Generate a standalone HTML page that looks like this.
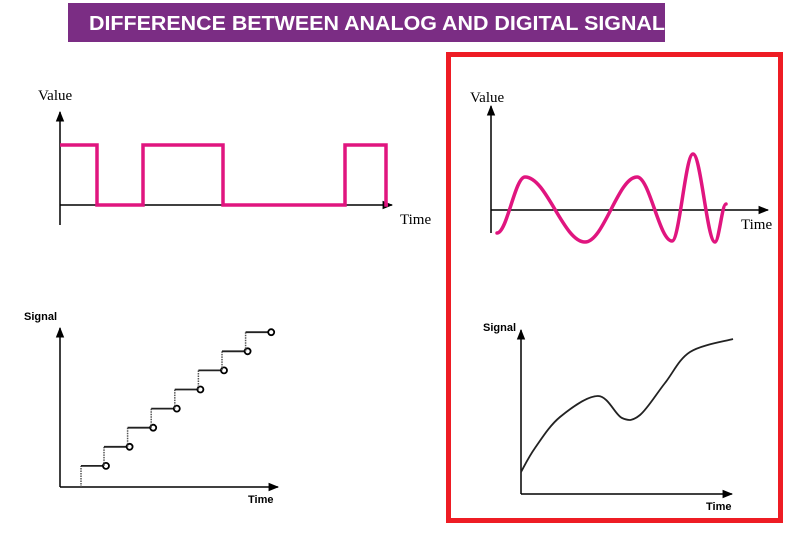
<!DOCTYPE html>
<html><head><meta charset="utf-8"><style>
html,body{margin:0;padding:0;background:#fff;width:800px;height:549px;overflow:hidden}
svg{display:block}
.serif{font-family:"Liberation Serif",serif}
.sans{font-family:"Liberation Sans",sans-serif;font-weight:bold}
</style></head><body>
<svg id="c" width="800" height="549" viewBox="0 0 800 549">
<defs><marker id="ar" viewBox="0 0 10 10" refX="9" refY="5" markerWidth="7" markerHeight="7" orient="auto-start-reverse"><path d="M0,1 L10,5 L0,9 z" fill="#000"/></marker></defs>
<rect x="68" y="3" width="597" height="39" fill="#7b2d84"/>
<text x="89" y="30" fill="#fff" class="sans" font-size="20" textLength="576" lengthAdjust="spacingAndGlyphs">DIFFERENCE BETWEEN ANALOG AND DIGITAL SIGNAL</text>
<rect x="448.5" y="54.5" width="332" height="466" fill="none" stroke="#ee1c24" stroke-width="5"/>
<g id="g"></g>
</svg>
<script>
// Digital square wave: time breakpoints and levels (1=high,0=low)
const sqTimes=[0,37,83,163,285,326];
const sqLevels=[1,0,1,0,1,0];
// Analog wave (top-right): time and value
const waveT=[0,28,88,140,175,196,218,229];
const waveV=[-23,33,-32,33,-31,56,-32,6];
// Quantized steps (bottom-left)
const stepLevels=[1,2,3,4,5,6,7,8];
// Analog curve (bottom-right)
const curveT=[0,14,39,77,101,119,144,169,212];
const curveV=[22,46,77,98,76,79,111,142,155];

const g=document.getElementById('g');const NS='http://www.w3.org/2000/svg';
function el(t,a){const e=document.createElementNS(NS,t);for(const k in a)e.setAttribute(k,a[k]);g.appendChild(e);return e;}
function axes(ox,oy,top,right,w){
 let a=el('line',{x1:ox,y1:oy+(w||0),x2:ox,y2:top,stroke:'#000','stroke-width':1.5,'marker-end':'url(#ar)'});
 
 let b=el('line',{x1:ox,y1:oy,x2:right,y2:oy,stroke:'#000','stroke-width':1.5,'marker-end':'url(#ar)'});
 
}
function txt(x,y,s,cls,fs,name){const t=el('text',{x:x,y:y,'class':cls,'font-size':fs});t.textContent=s;
 }

// Chart 1: square wave
{const ox=60,oy=205,sx=v=>ox+v,sy=l=>oy-60*l;
 axes(ox,oy,112,392,20);
 txt(38,100,'Value','serif',15,'y-axis-title');txt(400,224,'Time','serif',15,'x-axis-title');
 let d='';for(let i=0;i<sqTimes.length;i++){const x=sx(sqTimes[i]),y=sy(sqLevels[i]);
  if(i===0)d+='M'+x+','+y;else d+=' L'+x+','+sy(sqLevels[i-1])+' L'+x+','+y;}
 d+=' L'+sx(328)+','+sy(sqLevels[sqLevels.length-1]);
 const p=el('path',{d:d,fill:'none',stroke:'#e0157f','stroke-width':3.5});
 }

// Chart 2: analog wave
{const ox=491,oy=210,sx=t=>497+t,sy=v=>oy-v;
 axes(ox,oy,106,768,23);
 txt(470,102,'Value','serif',15,'y-axis-title');txt(741,229,'Time','serif',15,'x-axis-title');
 const pts=waveT.map((t,i)=>[sx(t),sy(waveV[i])]);
 let d='M'+pts[0];for(let i=0;i<pts.length-1;i++){const a=pts[i],b=pts[i+1],dx=(b[0]-a[0]);
  d+=' C'+(a[0]+dx*0.36)+','+a[1]+' '+(b[0]-dx*0.36)+','+b[1]+' '+b[0]+','+b[1];}
 const p=el('path',{d:d,fill:'none',stroke:'#e0157f','stroke-width':3.5,'stroke-linecap':'round'});
 }

// Chart 3: quantized steps
{const ox=60,oy=487,sx=i=>106+23.6*i,sy=l=>oy-2-19.1*l;
 axes(ox,oy,328,278,0);
 txt(24,320,'Signal','sans',11,'y-axis-title');txt(248,503,'Time','sans',11,'x-axis-title');
 for(let i=0;i<stepLevels.length;i++){const y=sy(stepLevels[i]),x0=(i===0?81:sx(i-1)-2),yb=(i===0?oy:sy(stepLevels[i-1]));
  const v=el('line',{x1:x0,y1:yb,x2:x0,y2:y,stroke:'#555','stroke-width':1.5,'stroke-dasharray':'1.5,1'});
  
  const h=el('line',{x1:x0,y1:y,x2:sx(i),y2:y,stroke:'#222','stroke-width':1.8});
  
  const c=el('circle',{cx:sx(i),cy:y,r:3,fill:'#fff',stroke:'#000','stroke-width':1.8});
  }}

// Chart 4: analog curve
{const ox=521,oy=494,sx=t=>ox+t,sy=v=>oy-v;
 axes(ox,oy,330,732,0);
 txt(483,331,'Signal','sans',11,'y-axis-title');txt(706,510,'Time','sans',11,'x-axis-title');
 const pts=curveT.map((t,i)=>[sx(t),sy(curveV[i])]);
 let d='M'+pts[0];for(let i=0;i<pts.length-1;i++){const p0=pts[Math.max(0,i-1)],p1=pts[i],p2=pts[i+1],p3=pts[Math.min(pts.length-1,i+2)];
  d+=' C'+(p1[0]+(p2[0]-p0[0])/6)+','+(p1[1]+(p2[1]-p0[1])/6)+' '+(p2[0]-(p3[0]-p1[0])/6)+','+(p2[1]-(p3[1]-p1[1])/6)+' '+p2[0]+','+p2[1];}
 const p=el('path',{d:d,fill:'none',stroke:'#222','stroke-width':1.8});
 }
</script>
</body></html>
